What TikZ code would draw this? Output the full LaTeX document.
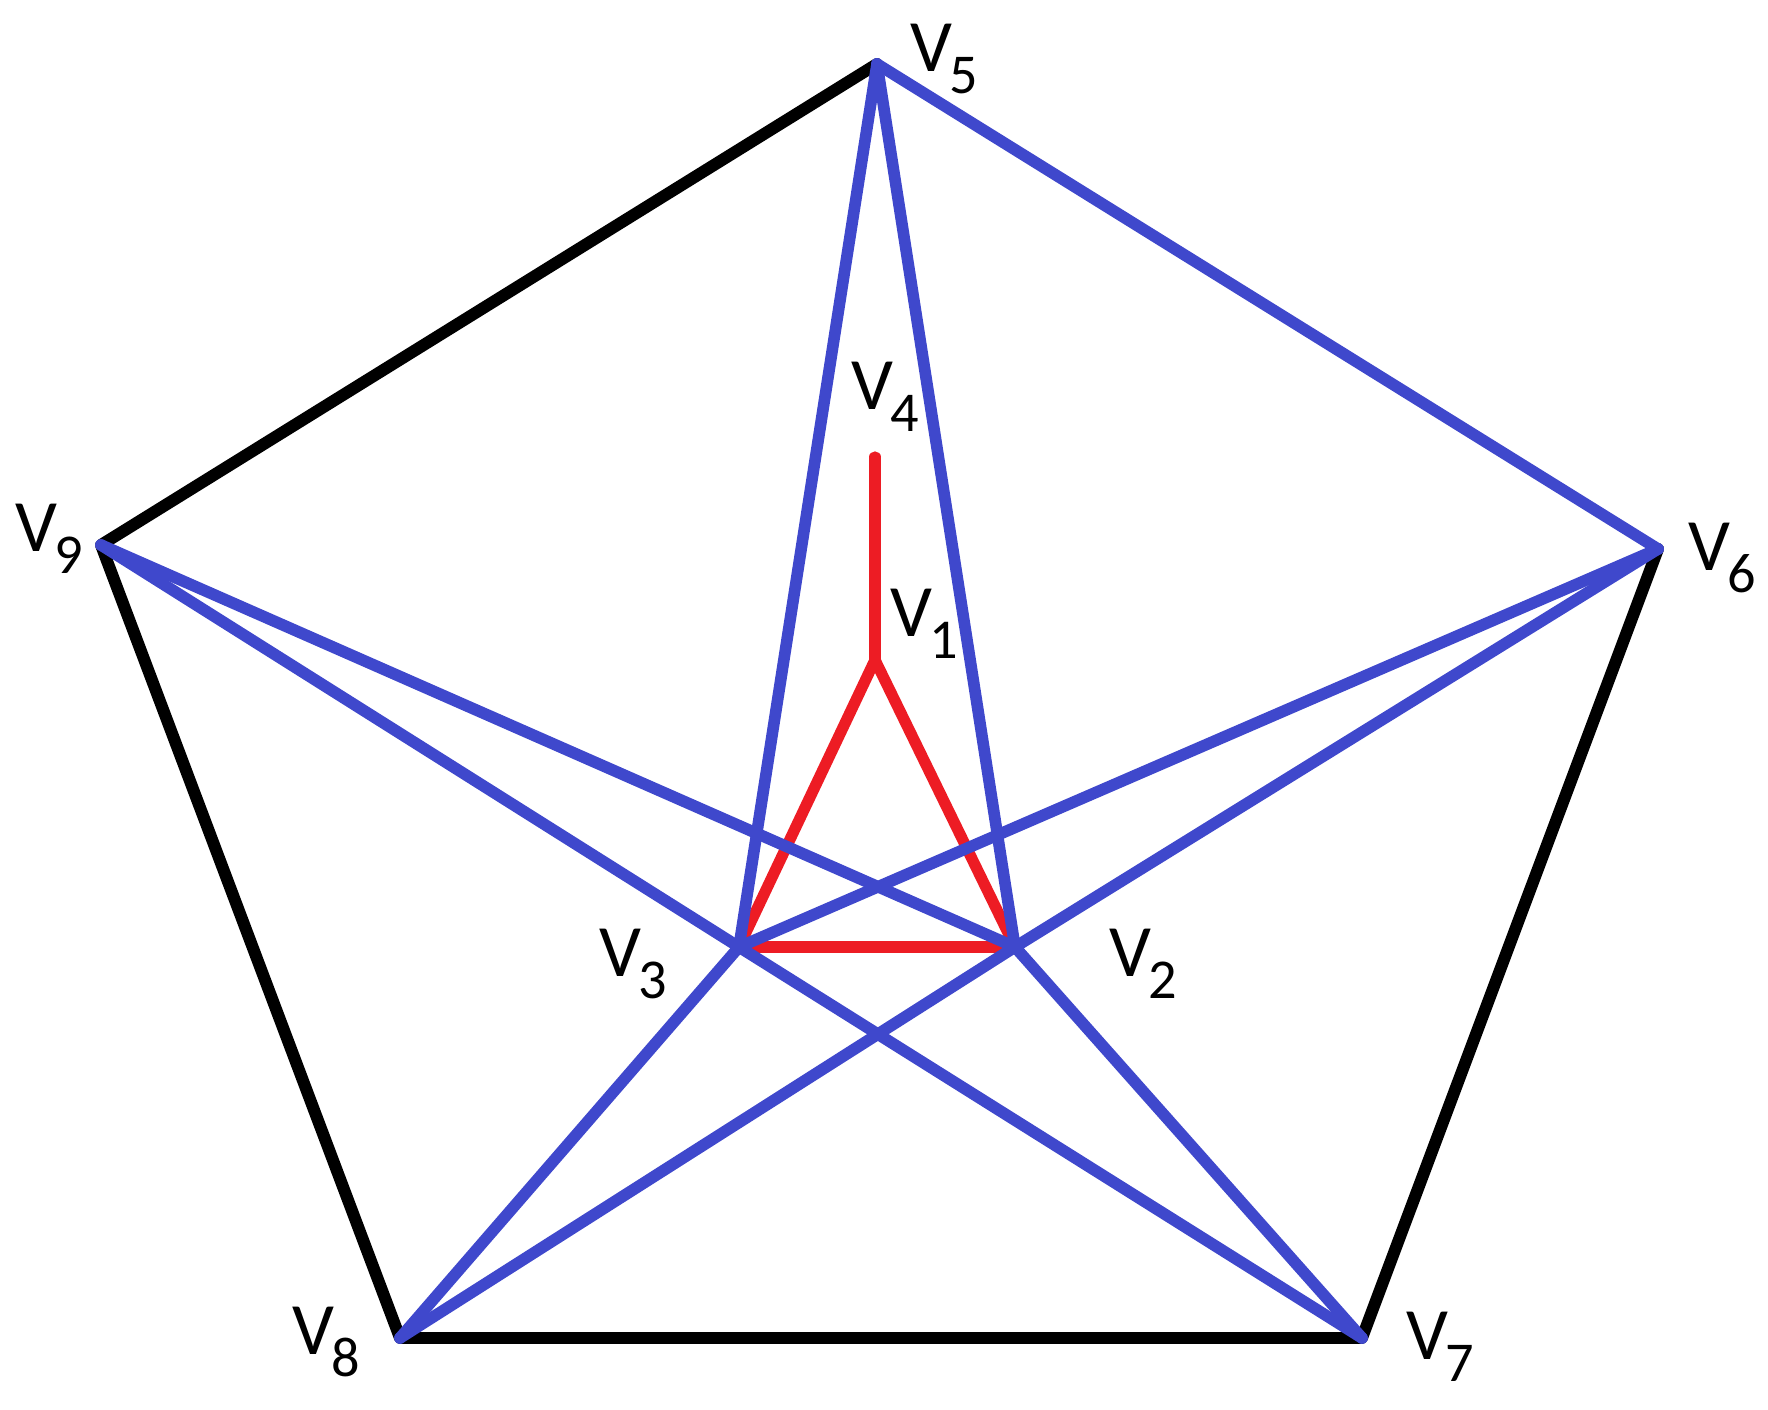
\documentclass[tikz,border=0pt]{standalone}
\usepackage{fontspec}
\setmainfont{Carlito}
\definecolor{edgeBlue}{RGB}{63,72,204}
\definecolor{edgeRed}{RGB}{237,28,36}
\newcommand{\vlab}[1]{V\kern-0.04em\raisebox{-0.3em}{\fontsize{16}{16}\selectfont #1}}
\begin{document}
\begin{tikzpicture}[x=0.01cm, y=-0.01cm, blackEdge/.style={draw=black, line width=3.4pt, line cap=round, line join=round}, blueEdge/.style={draw=edgeBlue, line width=3.3pt, line cap=round}, redEdge/.style={draw=edgeRed, line width=3.2pt, line cap=round}, labelStyle/.style={inner sep=0pt, font=\fontsize{21}{24}\selectfont}]
                    \useasboundingbox (0,0) rectangle (1768,1410);

                    % vertices
                    \coordinate (v1) at ( 875,  660);
                    \coordinate (v2) at (1015,  947);
                    \coordinate (v3) at ( 739,  947);
                    \coordinate (v4) at ( 875,  457);
                    \coordinate (v5) at ( 877,   64);
                    \coordinate (v6) at (1658,  549);
                    \coordinate (v7) at (1362, 1338);
                    \coordinate (v8) at ( 400, 1338);
                    \coordinate (v9) at ( 101,  545);

                    % labels
                    \node[labelStyle] (l1) at ( 924,  624) {\vlab{1}};
                    \node[labelStyle] (l2) at (1143,  964) {\vlab{2}};
                    \node[labelStyle] (l3) at ( 633,  964) {\vlab{3}};
                    \node[labelStyle] (l4) at ( 885,  397) {\vlab{4}};
                    \node[labelStyle] (l5) at ( 944,   59) {\vlab{5}};
                    \node[labelStyle] (l6) at (1722,  558) {\vlab{6}};
                    \node[labelStyle] (l7) at (1440, 1347) {\vlab{7}};
                    \node[labelStyle] (l8) at ( 326, 1342) {\vlab{8}};
                    \node[labelStyle] (l9) at (  49,  539) {\vlab{9}};

                    % outer black edges
                    \draw[blackEdge] (v5) -- (v9) -- (v8) -- (v7) -- (v6);

                    % red edges
                    \draw[redEdge] (v4) -- (v1);
                    \draw[redEdge] (v1) -- (v3);
                    \draw[redEdge] (v1) -- (v2);
                    \draw[redEdge] (v3) -- (v2);

                    % blue edges
                    \draw[blueEdge] (v5) -- (v6);
                    \foreach \outer in {5,6,7,8,9} {
                        \draw[blueEdge] (v\outer) -- (v2);
                        \draw[blueEdge] (v\outer) -- (v3);
                    }
                \end{tikzpicture}
\end{document}
